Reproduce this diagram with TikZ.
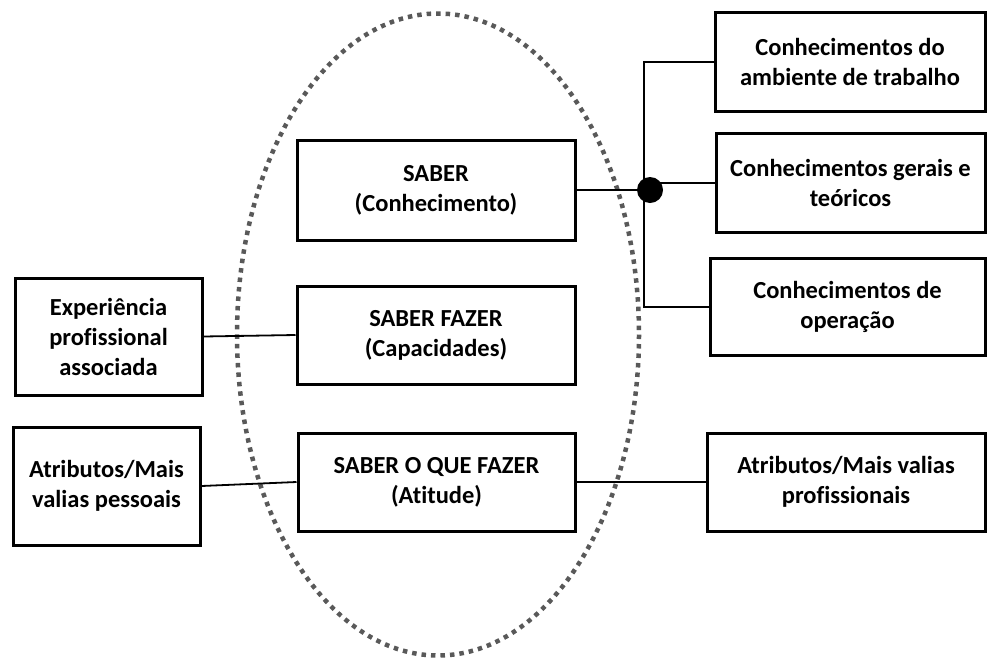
\documentclass[tikz,border=0pt]{standalone}
\usepackage{fontspec}
\setmainfont{Carlito}[Ligatures={NoCommon}]
\begin{document}
\begin{tikzpicture}[x=1pt,y=-1pt,
  box/.style={draw=black,line width=3pt,align=center,inner sep=2pt,
    font=\fontsize{24.5}{30}\selectfont\bfseries},
  link/.style={draw=black,line width=1.8pt},
  oval/.style={draw=black!65,line width=4.5pt,dash pattern=on 4.5pt off 5pt}]
\useasboundingbox (0,0) rectangle (987,659);
\draw[oval] (438,334.5) ellipse [x radius=201, y radius=321];
\node[box,minimum width=278,minimum height=100] (saber) at (436,190) {SABER\\(Conhecimento)};
\node[box,minimum width=278,minimum height=98] (fazer) at (436,335) {SABER FAZER\\(Capacidades)};
\node[box,minimum width=277,minimum height=98] (atitude) at (436.5,482) {SABER O QUE FAZER\\(Atitude)};
\node[box,minimum width=187,minimum height=117] (exp) at (108.5,336.5) {Experiência\\profissional\\associada};
\node[box,minimum width=187,minimum height=118] (pess) at (106.5,486) {Atributos/Mais\\valias pessoais};
\node[box,minimum width=270,minimum height=99] (amb) at (850,61.5) {Conhecimentos do\\ambiente de trabalho};
\node[box,minimum width=269,minimum height=99] (ger) at (850.5,182.5) {Conhecimentos gerais e\\teóricos};
\node[box,minimum width=275,minimum height=97] (oper) at (847.5,306.5) {Conhecimentos de\\operação};
\node[box,minimum width=278,minimum height=98] (prof) at (846,482) {Atributos/Mais valias\\profissionais};
\node[circle,fill=black,minimum size=26,inner sep=0] (dot) at (650,190) {};
\coordinate (vtop) at (644,62);
\coordinate (vbot) at (644,307);
\coordinate (gy) at (650,183);
\draw[link] (saber.east) -- (dot.center);
\draw[link] (gy) -- (ger.west |- gy);
\draw[link] (amb.west |- vtop) -- (vtop) -- (vbot) -- (oper.west |- vbot);
\draw[link] (exp.east) -- (fazer.west);
\draw[link] (pess.east) -- (atitude.west);
\draw[link] (atitude.east) -- (prof.west);
\end{tikzpicture}
\end{document}
